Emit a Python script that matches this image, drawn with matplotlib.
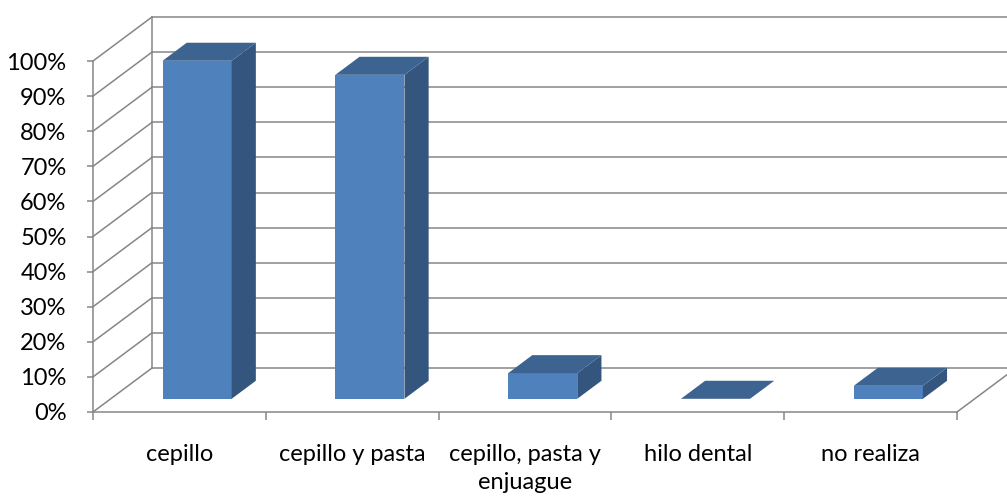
import matplotlib
matplotlib.use("Agg")
import matplotlib.pyplot as plt
from matplotlib.patches import Polygon
import numpy as np

# data
categories = ["cepillo", "cepillo y pasta", "cepillo, pasta y\nenjuague", "hilo dental", "no realiza"]
values = [0.963, 0.923, 0.073, 0.0, 0.037]
yticks = np.arange(0, 1.01, 0.1)

plt.rcParams['font.family'] = ['Lato', 'DejaVu Sans']

fig = plt.figure(figsize=(10.07, 5.0), dpi=100)
ax = fig.add_axes([93 / 1007, 88 / 500, 864 / 1007, 351 / 500])
ax.set_xlim(-0.5, len(categories) - 0.5)
ax.set_ylim(0, 1)

# pixel -> data conversion for the fake 3d depth
fig.canvas.draw()
p0 = ax.transData.transform((0, 0))
p1 = ax.transData.transform((1, 1))
px_x = p1[0] - p0[0]
px_y = p1[1] - p0[1]
wall_dx, wall_dy = 59 / px_x, 44 / px_y      # full depth of the box
grid_c = "#868686"

# left wall + back wall gridlines
x0 = -0.5
x1 = len(categories) - 0.5
for v in yticks:
    ax.plot([x0, x0 + wall_dx], [v, v + wall_dy], color=grid_c, lw=1.1, clip_on=False, zorder=1)
    ax.plot([x0 + wall_dx, x1 + wall_dx + 1], [v + wall_dy, v + wall_dy], color=grid_c, lw=1.1,
            clip_on=False, zorder=1)
ax.plot([x0 + wall_dx, x0 + wall_dx], [wall_dy, 1 + wall_dy], color=grid_c, lw=1.1, clip_on=False, zorder=1)
# floor right edge
ax.plot([x1, x1 + wall_dx], [0, wall_dy], color=grid_c, lw=1.1, clip_on=False, zorder=1)

# bars
d0, d1 = 0.30, 0.71
bw = 0.4
front_c, top_c, side_c = "#4F81BD", "#3D6491", "#34557E"
for i, v in enumerate(values):
    ox, oy = d0 * wall_dx, d0 * wall_dy
    ex, ey = (d1 - d0) * wall_dx, (d1 - d0) * wall_dy
    l, r = i - bw / 2 + ox, i + bw / 2 + ox
    b, t = oy, v + oy
    front = Polygon([(l, b), (r, b), (r, t), (l, t)], closed=True, fc=front_c, ec="none", zorder=3, clip_on=False)
    top = Polygon([(l, t), (r, t), (r + ex, t + ey), (l + ex, t + ey)], closed=True, fc=top_c,
                  ec="none", zorder=3, clip_on=False)
    side = Polygon([(r, b), (r + ex, b + ey), (r + ex, t + ey), (r, t)], closed=True, fc=side_c,
                   ec="none", zorder=3, clip_on=False)
    if v > 0:
        ax.add_patch(front)
        ax.add_patch(side)
    ax.add_patch(top)

# axes styling
for s in ["top", "right"]:
    ax.spines[s].set_visible(False)
for s in ["left", "bottom"]:
    ax.spines[s].set_color(grid_c)
    ax.spines[s].set_linewidth(1.1)
ax.set_yticks(yticks)
ax.set_yticklabels([f"{int(round(v * 100))}%" for v in yticks])
ax.tick_params(axis="y", length=4, width=1.1, color=grid_c, pad=15, labelsize=17)
ax.set_xticks(range(len(categories)))
ax.set_xticklabels(categories, linespacing=1.4)
ax.tick_params(axis="x", length=0, pad=23, labelsize=17)
ax.set_xticks(np.arange(-0.5, len(categories), 1), minor=True)
ax.tick_params(axis="x", which="minor", length=6, width=1.1, color=grid_c)
ax.set_facecolor("none")

fig.savefig("out.png", dpi=100)
